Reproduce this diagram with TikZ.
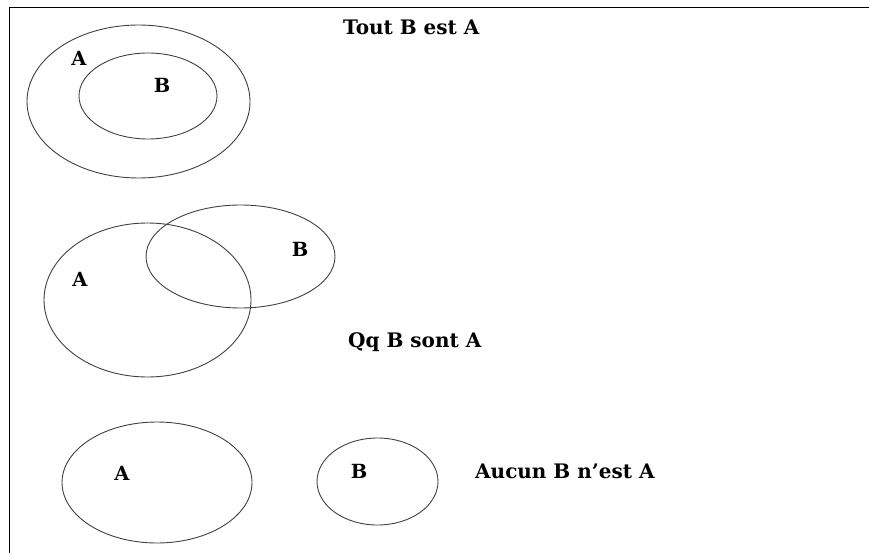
\documentclass[tikz,border=0pt]{standalone}
\usepackage{fontspec}
\setmainfont{DejaVu Serif}
\usetikzlibrary{shapes.geometric}
\begin{document}
\begin{tikzpicture}[x=1pt,y=-1pt,
  setshape/.style={draw=black!75, line width=0.9pt, ellipse, inner sep=0pt},
  letter/.style={font=\bfseries\fontsize{19.5}{22}\selectfont, inner sep=0pt},
  caption/.style={font=\bfseries\fontsize{20}{24}\selectfont, inner sep=0pt, anchor=base west},
  frame/.style={line width=1.8pt}]
\useasboundingbox (0,0) rectangle (869,553);

% frame: top and left edges only
\coordinate (tl) at (9.5,7.5);
\coordinate (tr) at (869,7.5);
\coordinate (bl) at (9.5,553);
\draw[frame] (tr) -- (tl) -- (bl);

% Tout B est A
\node[setshape, minimum width=223pt, minimum height=153pt] (A1) at (138.5,101.5) {};
\node[setshape, minimum width=138pt, minimum height=86pt] (B1) at (148,96) {};
\node[letter] (lA1) at (79,58) {A};
\node[letter] (lB1) at (162,85) {B};
\node[caption] (c1) at (343,35) {Tout B est A};

% Qq B sont A
\node[setshape, minimum width=207pt, minimum height=154pt] (A2) at (147.5,300) {};
\node[setshape, minimum width=189pt, minimum height=103pt] (B2) at (240.5,256.5) {};
\node[letter] (lA2) at (80,279) {A};
\node[letter] (lB2) at (300,249) {B};
\node[caption] (c2) at (348,347) {Qq B sont A};

% Aucun B n'est A
\node[setshape, minimum width=190pt, minimum height=121pt] (A3) at (157,482.5) {};
\node[setshape, minimum width=121pt, minimum height=87pt] (B3) at (377.5,481.5) {};
\node[letter] (lA3) at (122,473) {A};
\node[letter] (lB3) at (359,471) {B};
\node[caption] (c3) at (475,478) {Aucun B n’est A};
\end{tikzpicture}
\end{document}
